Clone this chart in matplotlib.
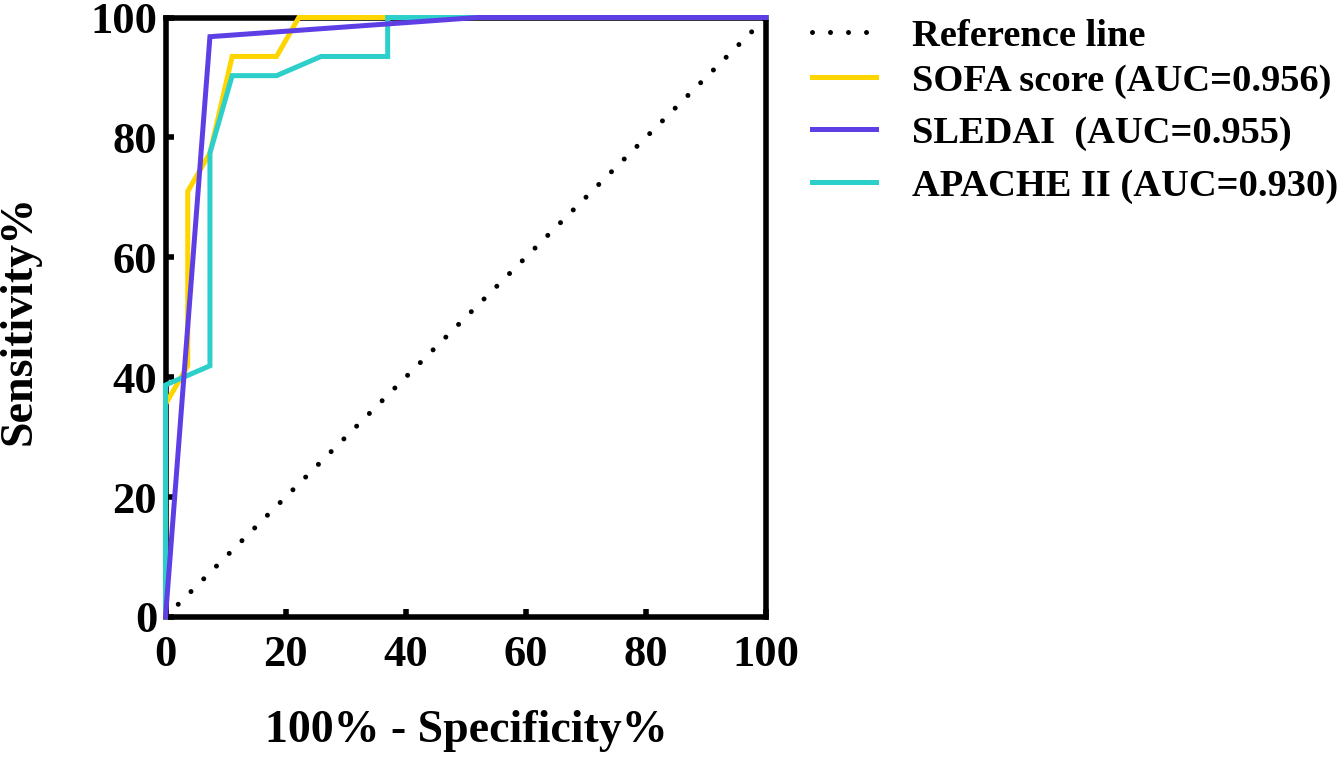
import matplotlib
matplotlib.use("Agg")
import matplotlib.pyplot as plt
from matplotlib.lines import Line2D

plt.rcParams['font.family'] = ['Liberation Serif', 'DejaVu Serif']
plt.rcParams['font.weight'] = 'bold'

# Data (100% - Specificity%, Sensitivity%)
ref_x = [0, 100]
ref_y = [0, 100]

sofa_x = [0, 0, 3.7, 3.7, 7.4, 11.1, 18.5, 22.2, 100]
sofa_y = [0, 35.5, 41.9, 71.0, 77.4, 93.5, 93.5, 100, 100]

sledai_x = [0, 7.4, 51.9, 100]
sledai_y = [0, 96.8, 100, 100]

apache_x = [0, 0, 7.4, 7.4, 11.1, 18.5, 25.9, 37.0, 37.0, 100]
apache_y = [0, 38.7, 41.9, 77.4, 90.3, 90.3, 93.5, 93.5, 100, 100]

labels = ["Reference line", "SOFA score (AUC=0.956)", "SLEDAI  (AUC=0.955)", "APACHE II (AUC=0.930)"]
colors = ["black", "#FFD500", "#5E3FE6", "#2DCFCA"]

xticks = [0, 20, 40, 60, 80, 100]
yticks = [0, 20, 40, 60, 80, 100]

W, H = 1341, 760
fig = plt.figure(figsize=(W / 100, H / 100), dpi=100)
ax = fig.add_axes([165.5 / W, 1 - 617 / H, (766 - 165.5) / W, (617 - 17.5) / H])

lw = 3.6
dot_style = (0, (0.001, 3.6))
ax.plot(ref_x, ref_y, color=colors[0], lw=lw, linestyle=dot_style,
        dash_capstyle='round', solid_capstyle='round', zorder=3)
ax.plot(sofa_x, sofa_y, color=colors[1], lw=lw, zorder=4, clip_on=False, solid_joinstyle='miter')
ax.plot(apache_x, apache_y, color=colors[3], lw=lw, zorder=5, clip_on=False, solid_joinstyle='miter')
ax.plot(sledai_x, sledai_y, color=colors[2], lw=lw, zorder=6, clip_on=False, solid_joinstyle='miter')

ax.set_xlim(0, 100)
ax.set_ylim(0, 100)
ax.set_xticks(xticks)
ax.set_yticks(yticks)
for s in ax.spines.values():
    s.set_linewidth(4)
    s.set_zorder(2)
ax.tick_params(direction='in', length=6, width=4, labelsize=32)
ax.tick_params(axis='x', pad=13)
ax.tick_params(axis='y', pad=6)
ax.tick_params(axis='x', which='both', bottom=True, top=False)
ax.tick_params(axis='y', which='both', left=True, right=False)
for t in ax.get_xticklabels() + ax.get_yticklabels():
    t.set_fontweight('bold')

fig.text(466 / W, 1 - 731 / H, "100% - Specificity%", ha='center', va='center',
         fontsize=33, fontweight='bold')
fig.text(20 / W, 1 - 320 / H, "Sensitivity%", ha='center', va='center',
         rotation=90, fontsize=33, fontweight='bold')

# Legend (manual)
row_y = [32, 77, 129, 182]
for lab, col, yy, i in zip(labels, colors, row_y, range(4)):
    yf = 1 - yy / H
    if i == 0:
        ln = Line2D([812 / W, 876 / W], [yf, yf], color=col, lw=lw,
                    linestyle=dot_style, dash_capstyle='round', transform=fig.transFigure)
    else:
        ln = Line2D([812 / W, 876 / W], [yf, yf], color=col, lw=lw,
                    transform=fig.transFigure)
    fig.add_artist(ln)
    fig.text(912 / W, yf, lab, ha='left', va='center_baseline', fontsize=27.7, fontweight='bold')

fig.savefig("out.png", dpi=100)
